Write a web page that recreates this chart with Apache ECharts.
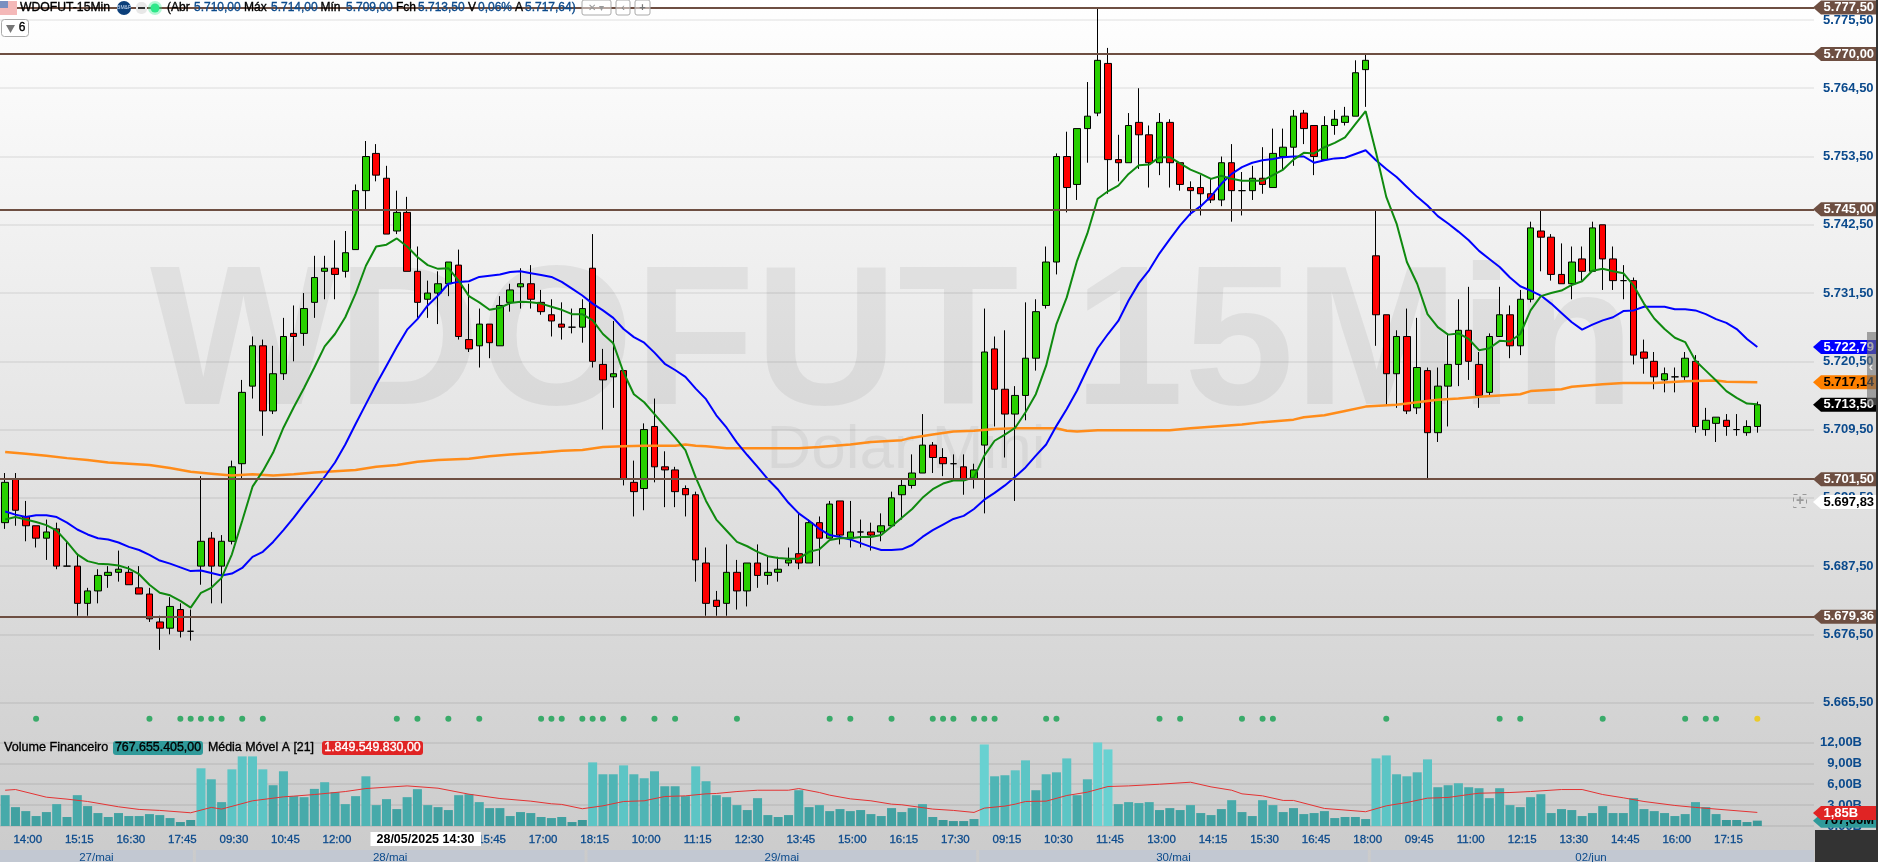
<!DOCTYPE html>
<html>
<head>
<meta charset="utf-8">
<title>WDOFUT-15Min</title>
<script src="https://cdn.jsdelivr.net/npm/echarts@6/dist/echarts.min.js"></script>
<style>
html,body{margin:0;padding:0;background:#cbcbcb;}
#chart{width:1878px;height:862px;}
</style>
</head>
<body>
<div id="chart"></div>
<script>
// tick labels of the time axis, one every 5 candles starting at candle 2
var timeTicks=['14:00','15:15','16:30','17:45','09:30','10:45','12:00','13:15','14:30','15:45','17:00','18:15','10:00','11:15','12:30','13:45','15:00','16:15','17:30','09:15','10:30','11:45','13:00','14:15','15:30','16:45','18:00','09:45','11:00','12:15','13:30','14:45','16:00','17:15'];
var dayLabels=['27/mai','28/mai','29/mai','30/mai','02/jun'];
var dayStarts=[0,19,57,95,133];
var priceTicks=[5775.5,5764.5,5753.5,5742.5,5731.5,5720.5,5709.5,5698.5,5687.5,5676.5,5665.5];
var volumeTicks=[0,3,6,9,12];
// price levels and last values shown on the right
var levelLines=[5777.5,5770,5745,5701.5,5679.36];
var lastBlue=5722.79, lastOrange=5717.14, lastClose=5713.5, cursorPrice=5697.83;
var lastMa=1.85, lastVolume=0.77;
// [open, close, low, high]
var candleRows=[
[5694.5,5701,5693.5,5702.5],[5701.5,5696.5,5694,5702.5],[5695.5,5694,5691.5,5698],[5694,5692,5690.5,5694],[5692,5693,5688.5,5695],
[5693.5,5687.5,5687,5694.5],[5687.5,5687.5,5687.5,5691.5],[5687.5,5681.5,5679.5,5689.5],[5681.5,5683.5,5679.5,5684],[5683.5,5686,5681.5,5687],
[5686,5686.5,5684,5687.5],[5686.5,5687,5685,5690],[5686.5,5684.5,5684.5,5687.5],[5684,5683,5683,5687.5],[5683,5679,5678.5,5684],
[5678.5,5677.5,5674,5679.5],[5677.5,5681,5676.5,5682.5],[5680.5,5677,5676,5681.5],[5677,5677,5675.5,5680.5],[5687.5,5691.5,5684.5,5702],
[5692,5687.5,5681.5,5693],[5687.5,5691.5,5681.5,5692.5],[5691.5,5703.5,5691,5704.5],[5704,5715.5,5701.5,5717.5],[5716.5,5723,5714.5,5724.5],
[5723,5712.5,5708.5,5724],[5712.5,5718.5,5712,5723],[5718.5,5724.5,5717.5,5727.5],[5725,5724.5,5720.5,5729.5],[5725,5729,5723,5731.5],
[5730,5734,5727.5,5737.5],[5735,5735.5,5730.5,5737.5],[5735.5,5734.5,5730.5,5740],[5735,5738,5734,5741.5],[5738.5,5748,5738.5,5749],
[5748,5753.5,5745,5756],[5754,5750.5,5749.5,5755.5],[5750,5741,5741,5752],[5741.5,5744.5,5741,5748],[5744.5,5735,5735,5747],
[5735,5730,5727.5,5739],[5730.5,5731.5,5727.5,5733.5],[5731.5,5733,5726.5,5735],[5733,5736.5,5731,5736.5],[5736,5724.5,5724,5738.5],
[5724,5722.5,5722,5733],[5723,5726.5,5719.5,5729],[5726.5,5723.5,5721,5726.5],[5723,5729.5,5723,5731],[5730,5732,5728.5,5733],
[5732.5,5733,5729,5735.5],[5733,5730.5,5729,5736],[5730,5728.5,5728,5732],[5728,5727,5724.5,5730.5],[5726.5,5726,5724,5730],
[5726,5726,5725,5729],[5726,5729,5723.5,5730.5],[5735.5,5720.5,5719.5,5741],[5720,5717.5,5709.5,5722.5],[5718,5718.5,5713,5727],
[5719,5701.5,5700.5,5719],[5701,5699.5,5695.5,5704.5],[5700,5709.5,5696.5,5710.5],[5710,5703.5,5701,5714.5],[5703.5,5703,5697,5706],
[5703,5699.5,5697,5703.5],[5700,5699,5695.5,5700.5],[5699,5688.5,5685,5699.5],[5688,5681.5,5679.5,5690.5],[5682,5681,5679.5,5683.5],
[5681.5,5686.5,5679.5,5691],[5686.5,5683.5,5680.5,5688.5],[5683.5,5688,5681,5688],[5688,5686,5684,5691],[5686,5686.5,5684.5,5689],
[5686.5,5687,5685,5689],[5688,5688.5,5687.5,5690.5],[5689.5,5688,5687,5696],[5688,5694.5,5688,5695],[5694.5,5692,5687.5,5695.5],
[5692,5697.5,5692,5698],[5698,5692.5,5691,5698],[5692,5693,5690.5,5698],[5693,5693,5690.5,5695],[5693,5692.5,5690,5694.5],
[5693,5694,5691.5,5696],[5694,5698.5,5694,5699.5],[5699,5700.5,5695,5701.5],[5700.5,5702.5,5700,5705.5],[5702.5,5707,5702.5,5712],
[5707,5705,5702.5,5707.5],[5705,5704,5702,5706.5],[5704,5704,5701.5,5705.5],[5703.5,5701.5,5699,5705.5],[5701.5,5703,5700,5704],
[5707,5722,5696,5729],[5722.5,5716,5710,5724.5],[5716,5712,5705,5725.5],[5712,5715,5698,5716.5],[5715,5721,5711,5730],
[5721,5728.5,5719,5730.5],[5729.5,5736.5,5729,5739],[5736.5,5753.5,5734.5,5754],[5753.5,5748.5,5744.5,5757.5],[5749,5758,5746.5,5758],
[5758,5760,5752.5,5765.5],[5760.5,5769,5760,5777.5],[5768.5,5753,5747.5,5771],[5753,5752.5,5749.5,5757],[5752.5,5758.5,5752.5,5760.5],
[5759,5757,5751.5,5764.5],[5757,5752.5,5748.5,5758.5],[5752.5,5759,5750.5,5760.5],[5759,5752.5,5748.5,5759.5],[5752.5,5749,5748,5752.5],
[5748.5,5748,5744,5749.5],[5748.5,5747.5,5744,5750.5],[5747.5,5746.5,5746,5750],[5746.5,5752.5,5745.5,5753.5],[5752.5,5748,5743,5755.5],
[5748,5748,5744,5751],[5748,5750,5746.5,5752],[5750,5749,5747.5,5755],[5748.5,5754,5748.5,5758],[5753.5,5755,5751.5,5758],
[5755,5760,5752,5761],[5760.5,5758,5755.5,5761],[5758.5,5753.5,5750.5,5758.5],[5753,5758.5,5753,5760],[5758.5,5759.5,5757,5761],
[5759,5760,5758.5,5761.5],[5760,5767,5760,5769],[5767.5,5769,5761.5,5770],[5737.5,5728,5723,5745],[5728,5718.5,5713.5,5728],
[5718.5,5724.5,5713,5725.5],[5724.5,5712.5,5712,5729],[5713,5719.5,5712,5727.5],[5719,5709,5701.5,5719.5],[5709,5716.5,5707.5,5719.5],
[5716.5,5720,5710,5725],[5720,5725.5,5716.5,5730.5],[5725.5,5720.5,5717.5,5732.5],[5720,5715,5713,5722],[5715.5,5724.5,5715,5725],
[5724.5,5728,5724.5,5732.5],[5728,5723,5721,5729.5],[5723,5730.5,5721.5,5732],[5730.5,5742,5730,5743],[5741.5,5740.5,5735,5745],
[5740.5,5734.5,5733.5,5741],[5734.5,5733,5733,5739.5],[5733,5736.5,5730.5,5739],[5737,5735,5733.5,5739],[5735,5742,5735,5743],
[5742.5,5737,5732,5742.5],[5737,5733.5,5732,5739],[5733.5,5733.5,5730.5,5736],[5733.5,5721.5,5720,5734],[5722,5721,5718.5,5724],
[5720.5,5718,5716,5722],[5717.5,5718.5,5715.5,5719.5],[5718,5718,5715.5,5719.5],[5718,5721,5717.5,5722],[5720.5,5710,5709,5721.5],
[5709.5,5711,5708.5,5713],[5710.5,5711.5,5707.5,5711.5],[5711,5710,5708.5,5712],[5709.5,5709.5,5708.5,5712],[5709,5710,5708.5,5711],
[5710,5713.5,5709,5714]
];
// fast average (green)
var fastAvg=[5695,5695.4,5695,5694.6,5694.1,5693.2,5691.4,5689.4,5688.3,5687.9,
5687.8,5687.6,5687.1,5686.2,5684.5,5683.2,5682.8,5681.9,5680.8,5683.2,
5684,5685.6,5689.4,5694.8,5700.3,5702.8,5705.8,5709.8,5713.1,5716.2,
5719.5,5722.9,5724.9,5727.6,5731.4,5735.9,5739,5739.3,5740.3,5739,
5737.3,5736,5735.4,5735.5,5733.5,5731,5730,5728.8,5729.1,5729.9,
5730.1,5730,5729.8,5729.3,5728.8,5728.1,5728.1,5727.1,5724.9,5723.4,
5718.7,5715.2,5713.9,5712,5710.1,5708.2,5706.2,5701.8,5698,5695,
5693.2,5691.4,5690.7,5689.8,5689.1,5688.8,5688.7,5688.7,5689.8,5690.2,
5691.7,5692,5692,5692.2,5692.2,5692.5,5693.9,5695.3,5696.7,5698.5,
5699.9,5700.8,5701.3,5701.3,5701.8,5705.3,5707.7,5708.7,5709.8,5712.3,
5715.2,5719.8,5726.5,5730.8,5736.7,5741.1,5746.7,5747.9,5748.8,5750.7,
5752.1,5752.2,5753.4,5753.4,5752.4,5751.4,5750.7,5749.9,5750.4,5749.9,
5749.6,5749.6,5749.6,5750.5,5751.4,5753,5754.1,5754,5755,5755.7,
5756.6,5758.7,5760.8,5754.2,5747,5742.7,5736.5,5733,5728.1,5726,
5724.8,5725,5724.1,5722.3,5722.6,5723.8,5723.7,5724.9,5728.7,5731,
5731.5,5731.9,5732.8,5733.4,5735.1,5735.4,5735,5734.7,5732.7,5729.8,
5727.4,5725.7,5724.3,5723.6,5720.6,5719,5717.4,5715.7,5714.6,5713.7,5713.6];
// slow average (blue)
var slowAvg=[5696.3,5695.8,5695.4,5695.7,5695.7,5695.4,5694.5,5693.4,5692.6,5692,
5691.8,5691.3,5690.6,5690.1,5689.3,5688.4,5687.9,5687.3,5686.7,5686.8,
5686.4,5686,5686.3,5687.2,5689,5689.8,5691.4,5693.3,5695.3,5697.5,
5699.6,5701.9,5704.2,5707.1,5710.4,5713.6,5716.8,5719.8,5722.8,5725.6,
5727.3,5729.5,5731.1,5733,5733.3,5733.4,5734.1,5734.3,5734.5,5734.9,
5735,5734.7,5734.4,5734.1,5733.3,5732.2,5731.1,5729.8,5728.7,5727.5,
5725.7,5724.4,5723.5,5721.9,5720.1,5719.1,5718,5716.1,5714.4,5711.8,
5709.8,5707.4,5705.4,5703.5,5701.5,5699.8,5697.7,5696,5694.8,5693.5,
5692.5,5692.2,5691.8,5691.2,5690.6,5690.1,5690.1,5690.2,5690.9,5692.2,
5693.3,5694.2,5695.1,5695.6,5696.7,5698.2,5699.3,5700.5,5701.9,5703.4,
5705.3,5707.1,5710.1,5712.8,5715.8,5719.3,5722.6,5724.9,5727,5730.3,
5733.1,5735.2,5737.9,5740.2,5742.4,5744.3,5745.5,5747.1,5749.1,5750.7,
5751.8,5752.5,5752.9,5753.1,5753.4,5753.5,5753.5,5752.5,5752.9,5753.2,
5753.3,5753.9,5754.5,5752.9,5751.5,5750.2,5748.6,5747,5745.6,5743.9,
5742.7,5741.4,5740,5738.3,5737,5735.7,5734,5732.6,5731.9,5731.1,
5729.8,5728.3,5726.8,5725.6,5726.4,5727.1,5727.6,5728.6,5728.7,5729.3,
5729.3,5729.3,5728.9,5728.9,5728.7,5728.1,5727.3,5726.7,5725.7,5724.1,5722.8];
// long average (orange), [candle, value] where it was read
var longAvg=[[0,5705.9],[2,5705.6],[4,5705.3],[6,5704.9],[8,5704.6],[10,5704.2],[14,5703.8],[16,5703.3],[18,5702.7],[20,5702.4],
[22,5702.1],[24,5702.3],[26,5702.1],[28,5702.3],[30,5702.6],[32,5702.8],[34,5703],[36,5703.5],[38,5703.8],[40,5704.3],
[42,5704.6],[45,5704.8],[47,5705.2],[49,5705.5],[52,5705.8],[54,5706.1],[56,5706.2],[58,5706.7],[60,5706.8],[62,5706.9],
[65,5706.9],[66,5707.1],[67,5706.9],[68,5706.8],[70,5706.5],[74,5706.5],[77,5706.5],[79,5706.7],[82,5707.1],[84,5707.5],
[87,5707.8],[88,5708.2],[90,5708.7],[92,5709.2],[94,5709.3],[96,5709.6],[98,5709.7],[102,5709.7],[103,5709.3],[104,5709.2],
[106,5709.4],[113,5709.4],[115,5709.7],[119,5710.2],[120,5710.3],[122,5710.7],[125,5711.1],[126,5711.5],[128,5711.8],[130,5712.5],
[132,5713.2],[135,5713.5],[137,5713.9],[139,5714.3],[141,5714.5],[143,5714.8],[147,5715.2],[148,5715.7],[151,5716],[152,5716.4],
[155,5716.8],[157,5717],[160,5717],[163,5717.3],[166,5717.4],[167,5717.2],[170,5717.14]];
// financial volume, in billions
var volumes=[4.43,2.71,2.14,1.43,2,3.14,1.29,4.43,2.86,1.86,1.29,1.86,1.43,1.43,1.71,1.57,1.14,0.57,0.86,8.29,
6.71,3.43,8.14,10,10,8.14,5.86,7.86,4.29,4.14,5.33,6.29,4.86,3.14,4.29,7.14,3,3.86,2.43,4.14,
5.29,3,2.71,2.29,4.43,4.57,3.43,2.57,2.57,1.43,2,1.86,1.29,1.14,1.29,0.57,0.86,9.14,7.43,7.43,
8.71,7.43,6.86,7.86,5.71,5.71,4.29,8.57,6.43,4.43,4.14,3,2.29,4,1.57,1.29,1.57,5.14,2.71,3,
2.14,2.43,2.14,2.29,1.71,1.43,2.57,2,2.57,3.14,1.29,0.86,0.71,0.71,1,11.71,7.14,7.29,8,9.43,
5.14,7.43,7.71,9.71,4.43,6.71,12,11,3.14,3.43,3.29,3.43,2.29,2.57,2.29,3,1.86,1.57,2.43,3.71,
2,1.43,3.71,3,2,2.57,1.71,1.86,2.14,1.14,1.29,1.29,1,9.71,10.14,7.43,7.14,7.71,9.57,5.57,
5.86,6.14,5.57,5.43,4,5.43,3,2.71,4.14,4.57,1.86,2.43,2.29,1.43,1.86,2.86,1.86,1.86,4,2.43,
2.14,1.86,1.43,1.71,3.43,2.71,1.71,0.86,0.86,0.57,0.77];
// volume average (red), [candle, value] where it was read
var volumeAvg=[[0,5.14],[1,5.24],[4,4.14],[6,3.86],[8,3.52],[11,2.76],[13,2.38],[15,2.24],[18,1.9],[20,2.67],
[21,2.43],[24,3.62],[27,4.19],[28,4.29],[30,4.52],[33,4.95],[35,5.38],[39,5.76],[42,5.43],[45,4.57],
[48,3.95],[51,3.57],[53,3.19],[54,3.1],[56,2.48],[58,2.9],[60,3.52],[62,3.62],[64,4.24],[66,4.33],
[68,4.62],[69,4.67],[71,4.95],[73,5.14],[76,5.14],[77,5.38],[79,4.81],[80,4.43],[82,3.9],[84,3.62],
[86,3.14],[87,3.05],[90,2.43],[92,2.24],[94,1.95],[95,2.57],[97,2.86],[98,3.14],[99,3.52],[101,3.57],
[103,4.38],[105,4.86],[107,5.67],[109,5.76],[112,6],[115,6.29],[117,5.62],[119,5.14],[120,4.62],[122,4.33],
[124,3.67],[125,3.67],[128,2.52],[130,2.29],[132,2.05],[134,2.9],[136,3.38],[138,4],[140,4.1],[142,4.52],
[143,4.71],[146,4.81],[148,4.95],[151,5.24],[153,5.24],[155,4.52],[157,4.05],[159,3.52],[162,2.95],[164,2.67],[170,1.95]];
// signal dots under the candles
var signalLevel=5662.9;
var greenSignals=[3,14,17,18,19,20,21,23,25,38,40,43,46,52,53,54,56,57,58,60,63,65,71,80,82,86,90,91,92,94,95,96,101,102,112,114,120,122,123,134,145,147,155,163,165,166];
var yellowSignals=[170];
// last bar readout in the header
var headerWords=['(Abr','Máx','Mín','Fch','V','A'];
var headerValues=['5.710,00','5.714,00','5.709,00','5.713,50','0,06%','5.717,64)'];
var headerWordX=[167,244,320.5,396,468,515];
var headerValueX=[194,271,346,418,478,525];

var blueText='#0b4a8c', brown='#6e4f42', font='"Liberation Sans",Arial,sans-serif';

// every candle is a category, only every 5th gets a label
var categories=[];
for(var i=0;i<176;i++){categories.push('');}
for(var k=0;k<timeTicks.length;k++){categories[2+5*k]=timeTicks[k];}

function fmtPrice(v){
    var s=v.toFixed(2).split('.');
    return s[0].replace(/\B(?=(\d{3})+$)/g,'.')+','+s[1];
}
function volColor(v){
    if(v>=10.5)return '#68d1d1';
    if(v>=8)return '#5cc5c5';
    if(v>=6)return '#4fb5b5';
    if(v>=3)return '#47aaaa';
    if(v>=1)return '#41a1a1';
    return '#3b9999';
}

var tagRows=[];
function addTag(value,text,fill,color){tagRows.push({value:value,text:text,fill:fill,color:color});}
for(var j=0;j<levelLines.length;j++){addTag(levelLines[j],fmtPrice(levelLines[j]),brown,'#fff');}
addTag(lastBlue,fmtPrice(lastBlue),'#0000ff','#fff');
addTag(lastOrange,fmtPrice(lastOrange),'#ff8000','#000');
addTag(lastClose,fmtPrice(lastClose),'#000','#fff');
addTag(cursorPrice,fmtPrice(cursorPrice),'#fff','#000');

function drawTag(row,y,coordSys){
    var x0=coordSys.x+coordSys.width-1, x1=1876;
    return {type:'group',children:[
        {type:'polygon',shape:{points:[[x0,y],[x0+8,y-7],[x1,y-7],[x1,y+7],[x0+8,y+7]]},style:{fill:row.fill}},
        {type:'text',style:{text:row.text,x:1823.5,y:y,fill:row.color,font:'bold 13px '+font,align:'left',verticalAlign:'middle'}}
    ]};
}
// plain interface text, thickened a little like the platform's font
function uiText(text,x,y,color,size,align){
    return {type:'text',z:100,style:{text:text,x:x,y:y,fill:color,font:size+'px '+font,align:align||'left',verticalAlign:'middle',
        stroke:color,lineWidth:0.35}};
}

var graphics=[
    // watermark
    {type:'text',z:-1,silent:true,style:{text:'WDOFUT 15Min',x:150,y:250,fill:'rgba(0,0,0,0.06)',font:'bold 198px '+font,align:'left',verticalAlign:'top'}},
    {type:'text',z:-1,silent:true,style:{text:'Dolar Mini',x:906,y:420,fill:'rgba(0,0,0,0.05)',font:'62px '+font,align:'center',verticalAlign:'top'}},
    // header
    {type:'rect',z:100,shape:{x:0,y:1,width:17,height:14},style:{fill:'#f4b8b8'}},
    {type:'rect',z:100,shape:{x:0,y:1,width:8,height:7},style:{fill:'#7a8fc0'}},
    uiText('WDOFUT-15Min',20,8,'#000',12.2),
    {type:'circle',z:100,shape:{cx:124,cy:8,r:7},style:{fill:'#0b3f7a'}},
    {type:'text',z:100,style:{text:'BM&F',x:124,y:8,fill:'#cfe0f5',font:'5px '+font,align:'center',verticalAlign:'middle'}},
    {type:'rect',z:100,shape:{x:136,y:2,width:11,height:12,r:5},style:{fill:'#e8e8e8'}},
    {type:'rect',z:100,shape:{x:138,y:7,width:7,height:2},style:{fill:'#333'}},
    {type:'circle',z:100,shape:{cx:155,cy:8,r:7},style:{fill:'rgba(46,232,138,0.35)'}},
    {type:'circle',z:100,shape:{cx:155,cy:8,r:4.5},style:{fill:'#2ee88a'}},
    {type:'rect',z:100,shape:{x:582,y:0,width:29,height:15,r:2},style:{fill:'rgba(255,255,255,0.5)',stroke:'#aaa'}},
    {type:'text',z:100,style:{text:'✕ ▾',x:596,y:8,fill:'#999',font:'10px '+font,align:'center',verticalAlign:'middle'}},
    {type:'rect',z:100,shape:{x:616,y:0,width:14,height:15,r:2},style:{fill:'rgba(255,255,255,0.5)',stroke:'#aaa'}},
    {type:'text',z:100,style:{text:'‹',x:623,y:8,fill:'#888',font:'11px '+font,align:'center',verticalAlign:'middle'}},
    {type:'rect',z:100,shape:{x:635,y:0,width:15,height:15,r:2},style:{fill:'rgba(255,255,255,0.5)',stroke:'#aaa'}},
    {type:'text',z:100,style:{text:'+',x:642.5,y:8,fill:'#777',font:'bold 11px '+font,align:'center',verticalAlign:'middle'}},
    {type:'rect',z:100,shape:{x:1.5,y:19.5,width:27,height:17,r:3},style:{fill:'#fff',stroke:'#aaa'}},
    {type:'polygon',z:100,shape:{points:[[6,25],[15,25],[10.5,33]]},style:{fill:'#777'}},
    uiText('6',22,28,'#000',12,'center'),
    // volume legend
    uiText('Volume Financeiro',4,748,'#000',12.6),
    {type:'rect',z:100,shape:{x:113,y:741,width:90,height:14,r:3},style:{fill:'#2f9a9a'}},
    uiText('767.655.405,00',158,748,'#000',12.4,'center'),
    uiText('Média Móvel A [21]',208,748,'#000',12.4),
    {type:'rect',z:100,shape:{x:322,y:741,width:101,height:14,r:3},style:{fill:'#e02424'}},
    uiText('1.849.549.830,00',372.5,748,'#fff',12.4,'center'),
    // cursor crosshair box on the price scale
    {type:'rect',z:100,shape:{x:1793.5,y:494.5,width:13,height:13},style:{fill:'none',stroke:'#999',lineDash:[4,5]}},
    {type:'text',z:100,style:{text:'+',x:1800,y:501,fill:'#999',font:'bold 14px '+font,align:'center',verticalAlign:'middle'}},
    // scroll handle over the scale
    {type:'rect',z:100,shape:{x:1867,y:332,width:9,height:73},style:{fill:'rgba(110,110,110,0.6)'}},
    {type:'text',z:101,style:{text:'‹',x:1871,y:367,fill:'#eee',font:'bold 13px '+font,align:'center',verticalAlign:'middle'}},
    // cursor date on the time scale
    {type:'rect',z:100,shape:{x:370.5,y:832,width:110.5,height:14},style:{fill:'#fff'}},
    {type:'text',z:101,style:{text:'28/05/2025 14:30',x:425.5,y:839.5,fill:'#000',font:'bold 12.5px '+font,align:'center',verticalAlign:'middle'}},
    // window edges
    {type:'rect',z:100,shape:{x:1815,y:830,width:63,height:32},style:{fill:'#333333'}},
    {type:'rect',z:100,shape:{x:1876,y:0,width:2,height:862},style:{fill:'#333333'}}
];
for(var h=0;h<headerWords.length;h++){
    graphics.push(uiText(headerWords[h],headerWordX[h],8,'#000',12));
    graphics.push(uiText(headerValues[h],headerValueX[h],8,blueText,12));
}

var option={
    animation:false,
    backgroundColor:new echarts.graphic.LinearGradient(0,0,0,1,[{offset:0,color:'#ffffff'},{offset:1,color:'#cbcbcb'}]),
    textStyle:{fontFamily:font},
    grid:[
        {left:-3,width:1817,top:0,height:732},
        {left:-3,width:1817,top:733,height:93}
    ],
    xAxis:[
        {gridIndex:0,type:'category',data:categories,boundaryGap:true,axisLine:{show:false},axisTick:{show:false},axisLabel:{show:false}},
        {gridIndex:1,type:'category',data:categories,boundaryGap:true,axisLine:{show:false},axisTick:{show:false},
            axisLabel:{show:true,color:blueText,fontSize:11.5,margin:8,padding:[0,0,0,4],textBorderColor:blueText,textBorderWidth:0.3,
                interval:function(index,value){return value!=='';}}}
    ],
    yAxis:[
        {gridIndex:0,type:'value',position:'right',min:5660.77,max:5778.72,axisLine:{show:false},
            axisTick:{show:false,customValues:priceTicks},
            axisLabel:{color:blueText,fontSize:13,fontWeight:'bold',margin:9,customValues:priceTicks,formatter:fmtPrice},
            splitLine:{show:true,lineStyle:{color:'rgba(0,0,0,0.06)',width:2}}},
        {gridIndex:1,type:'value',position:'right',min:0,max:13.36,axisLine:{show:false},
            axisTick:{show:false,customValues:volumeTicks},
            axisLabel:{color:blueText,fontSize:13,fontWeight:'bold',margin:48,align:'right',customValues:volumeTicks,
                formatter:function(v){return v+',00B';}},
            splitLine:{show:true,lineStyle:{color:'rgba(0,0,0,0.06)',width:2}}}
    ],
    graphic:graphics,
    series:[
        {name:'Preço',type:'candlestick',xAxisIndex:0,yAxisIndex:0,barWidth:7,data:candleRows,
            itemStyle:{color:'#28cf00',color0:'#ff0000',borderColor:'#000',borderColor0:'#000',borderWidth:1},
            markLine:{silent:true,symbol:'none',label:{show:false},animation:false,
                lineStyle:{color:brown,width:2,type:'solid'},
                data:levelLines.map(function(v){return {yAxis:v};})}},
        {name:'Longa',type:'line',xAxisIndex:0,yAxisIndex:0,data:longAvg,showSymbol:false,symbol:'none',lineStyle:{color:'#ff8c1a',width:2.5}},
        {name:'Lenta',type:'line',xAxisIndex:0,yAxisIndex:0,data:slowAvg,showSymbol:false,symbol:'none',lineStyle:{color:'#0000ff',width:2}},
        {name:'Rápida',type:'line',xAxisIndex:0,yAxisIndex:0,data:fastAvg,showSymbol:false,symbol:'none',lineStyle:{color:'#0f8a0f',width:2}},
        {name:'Sinal',type:'scatter',xAxisIndex:0,yAxisIndex:0,symbolSize:6,itemStyle:{color:'#13a04f'},
            data:greenSignals.map(function(c){return [c,signalLevel];})},
        {name:'Sinal atual',type:'scatter',xAxisIndex:0,yAxisIndex:0,symbolSize:6,itemStyle:{color:'#f0c800'},
            data:yellowSignals.map(function(c){return [c,signalLevel];})},
        {name:'Volume',type:'bar',xAxisIndex:1,yAxisIndex:1,barWidth:9,
            data:volumes.map(function(v){return {value:v,itemStyle:{color:volColor(v)}};})},
        {name:'Média',type:'line',xAxisIndex:1,yAxisIndex:1,data:volumeAvg,showSymbol:false,symbol:'none',lineStyle:{color:'#e43333',width:1}},
        // price tags
        {name:'Etiquetas',type:'custom',xAxisIndex:0,yAxisIndex:0,z:10,encode:{x:0,y:1},
            data:tagRows.map(function(r){return [0,r.value];}),
            renderItem:function(params,api){
                var y=api.coord([0,api.value(1)])[1];
                return drawTag(tagRows[params.dataIndex],y,params.coordSys);
            }},
        // volume tags
        {name:'Etiquetas volume',type:'custom',xAxisIndex:1,yAxisIndex:1,z:10,encode:{x:0,y:1},
            data:[[0,lastVolume],[0,lastMa]],
            renderItem:function(params,api){
                var y=api.coord([0,api.value(1)])[1];
                var row=params.dataIndex===0?{text:'767,66M',fill:'#2f9a9a',color:'#000'}:{text:'1,85B',fill:'#e02424',color:'#fff'};
                return drawTag(row,y,params.coordSys);
            }},
        // day bands under the time scale
        {name:'Dias',type:'custom',xAxisIndex:1,yAxisIndex:1,z:10,encode:{x:0,y:1},
            data:dayStarts.map(function(s){return [s,0];}),
            renderItem:function(params,api){
                var n=params.dataIndex, cs=params.coordSys, band=api.size([1,0])[0];
                var x0=n===0?0:api.coord([dayStarts[n],0])[0]-band/2;
                var x1=n===dayStarts.length-1?cs.x+cs.width:api.coord([dayStarts[n+1],0])[0]-band/2-3;
                var mid=n===dayStarts.length-1?1591:(x0+x1)/2;
                return {type:'group',children:[
                    {type:'rect',shape:{x:x0,y:850,width:x1-x0,height:12},style:{fill:'#c2c8d2'}},
                    {type:'text',style:{text:dayLabels[n],x:mid,y:857.5,fill:blueText,font:'11.5px '+font,align:'center',verticalAlign:'middle'}}
                ]};
            }}
    ]
};
var myChart=echarts.init(document.getElementById('chart'));
myChart.setOption(option);
</script>
</body>
</html>
